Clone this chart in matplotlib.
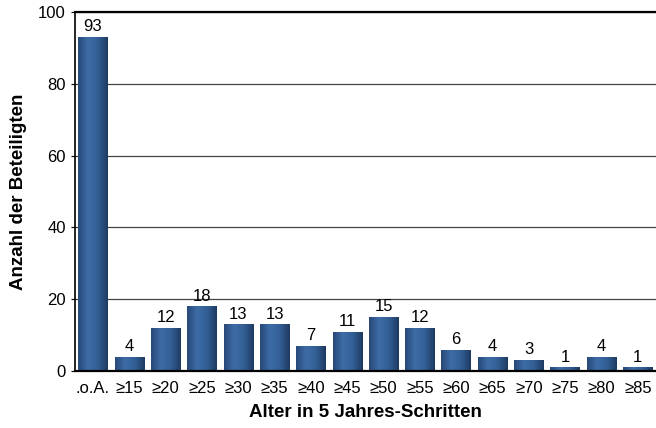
import numpy as np
import matplotlib.pyplot as plt
from matplotlib.colors import LinearSegmentedColormap

plt.rcParams['font.family'] = ['Liberation Sans', 'DejaVu Sans']

categories = [".o.A.", "≥15", "≥20", "≥25", "≥30", "≥35", "≥40", "≥45",
              "≥50", "≥55", "≥60", "≥65", "≥70", "≥75", "≥80", "≥85"]
counts = [93, 4, 12, 18, 13, 13, 7, 11, 15, 12, 6, 4, 3, 1, 4, 1]
y_ticks = [0, 20, 40, 60, 80, 100]

# cylinder-like shading across each bar
bar_cmap = LinearSegmentedColormap.from_list(
    'bar', ['#284878', '#3d6ca6', '#335f95', '#1e3960'])

fig = plt.figure(figsize=(6.56, 4.28), dpi=100)
ax = fig.add_axes([0.114, 0.133, 0.886, 0.839])

x = np.arange(len(categories))
bars = ax.bar(x, counts, width=0.81, color='none', zorder=2)

grad = np.linspace(0, 1, 256).reshape(1, -1)
for b in bars:
    x0, y0 = b.get_x(), b.get_y()
    im = ax.imshow(grad, cmap=bar_cmap, aspect='auto', zorder=2,
                   extent=[x0, x0 + b.get_width(), y0, y0 + b.get_height()])
    im.set_clip_path(b)

for i, v in enumerate(counts):
    ax.text(i, v + 0.8, str(v), ha='center', va='bottom', fontsize=12)

ax.set_xlim(-0.5, len(categories) - 0.5)
ax.set_ylim(0, 100)
ax.set_xticks(x)
ax.set_xticklabels(categories, fontsize=12)
ax.set_yticks(y_ticks)
ax.tick_params(axis='y', labelsize=12, length=3)
ax.tick_params(axis='x', length=0, pad=7)

ax.yaxis.grid(True, color='#444444', linewidth=0.9, zorder=1)
ax.set_axisbelow(True)

ax.spines['right'].set_visible(False)
ax.spines['top'].set_linewidth(1.6)
ax.spines['bottom'].set_linewidth(1.6)
ax.spines['left'].set_linewidth(1.2)

ax.set_xlabel('Alter in 5 Jahres-Schritten', fontsize=13.5, fontweight='bold', labelpad=6)
ax.set_ylabel('Anzahl der Beteiligten', fontsize=13.5, fontweight='bold', labelpad=8)

fig.savefig('out.png', dpi=100)
